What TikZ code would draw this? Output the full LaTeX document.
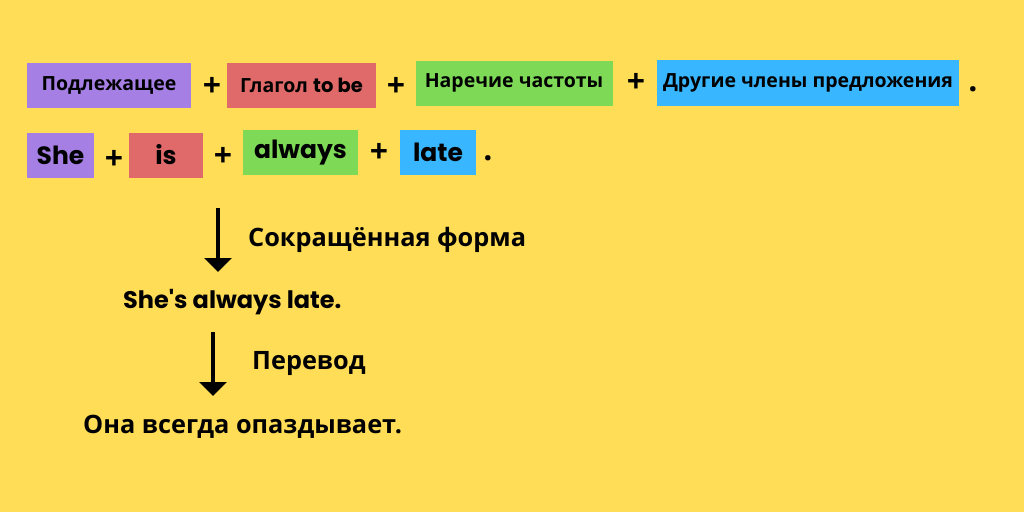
\documentclass[tikz,border=0pt]{standalone}
\usepackage{fontspec}
\setmainfont{Open Sans}
\newfontfamily\handfont{Poppins}
\usetikzlibrary{arrows.meta}

\definecolor{bgyellow}{HTML}{FFDD57}
\definecolor{subjpurple}{HTML}{A57FE3}
\definecolor{verbred}{HTML}{E06A6A}
\definecolor{advgreen}{HTML}{7ED957}
\definecolor{restblue}{HTML}{38B6FF}

\begin{document}
\begin{tikzpicture}[x = 1pt, y = -1pt]
	\tikzstyle{partStyle} = [inner sep = 0pt, font = \fontsize{19.5}{22}\selectfont\bfseries]
	\tikzstyle{wordStyle} = [inner sep = 0pt, minimum height = 45pt, font = \fontsize{25}{28}\handfont\bfseries]
	\tikzstyle{plusStyle} = [inner sep = 0pt, font = \fontsize{32}{34}\selectfont\bfseries]
	\tikzstyle{labelStyle} = [inner sep = 0pt, anchor = west, font = \fontsize{25.3}{28}\selectfont\bfseries]
	\tikzstyle{arrowStyle} = [line width = 4pt, -{Triangle[width = 27pt, length = 14pt]}]
	\fill[bgyellow] (0, 0) rectangle (1024, 512);
	% formula
	\node[partStyle, fill = subjpurple, minimum width = 164pt, minimum height = 45pt] (subj) at (109, 85.5) {Подлежащее};
	\node[plusStyle] (p1) at (212, 87) {+};
	\node[partStyle, fill = verbred, minimum width = 149pt, minimum height = 45pt] (verb) at (301.5, 85.5) {Глагол {\handfont to be}};
	\node[plusStyle] (p2) at (396, 87) {+};
	\node[partStyle, fill = advgreen, minimum width = 197pt, minimum height = 45pt] (adv) at (514, 83) {Наречие частоты};
	\node[plusStyle] (p3) at (636, 83) {+};
	\node[partStyle, fill = restblue, minimum width = 302pt, minimum height = 46pt] (rest) at (808, 83) {Другие члены предложения};
	\node[plusStyle] (d1) at (973, 89) {.};
	% example
	\node[wordStyle, fill = subjpurple, minimum width = 67pt] (she) at (60.5, 155.5) {She};
	\node[plusStyle] (p4) at (114, 160) {+};
	\node[wordStyle, fill = verbred, minimum width = 74pt] (is) at (166, 155) {is};
	\node[plusStyle] (p5) at (223, 157) {+};
	\node[wordStyle, fill = advgreen, minimum width = 115pt] (always) at (300.5, 152.5) {always};
	\node[plusStyle] (p6) at (379, 153) {+};
	\node[wordStyle, fill = restblue, minimum width = 76pt] (late) at (438, 152.5) {late};
	\node[plusStyle] (d2) at (488, 158) {.};
	% short form and translation
	\coordinate (a1s) at (218, 208);
	\coordinate (a1e) at (218, 272);
	\draw[arrowStyle] (a1s) -- (a1e);
	\node[labelStyle] (short) at (248, 240) {Сокращённая форма};
	\node[inner sep = 0pt, anchor = west, font = \fontsize{24}{26}\handfont\bfseries] (shortform) at (123, 302) {She's always late.};
	\coordinate (a2s) at (213, 332);
	\coordinate (a2e) at (213, 396);
	\draw[arrowStyle] (a2s) -- (a2e);
	\node[labelStyle] (transl) at (252, 363) {Перевод};
	\node[labelStyle] (ru) at (83, 427) {Она всегда опаздывает.};
\end{tikzpicture}
\end{document}
